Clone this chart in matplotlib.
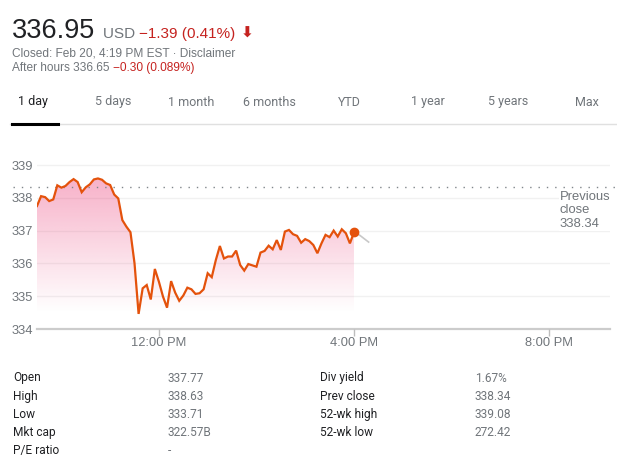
import numpy as np
import pandas as pd
import matplotlib
matplotlib.use("Agg")
import matplotlib.pyplot as plt
import matplotlib.dates as mdates
from matplotlib.patches import Polygon

# intraday prices, 5 minute samples from 9:30 to 16:00
prices = [
    337.75, 338.05, 338.02, 337.90, 337.95, 338.38, 338.31, 338.36, 338.48, 338.57,
    338.48, 338.17, 338.32, 338.41, 338.56, 338.59, 338.55, 338.44, 338.39, 338.10,
    337.98, 337.32, 337.12, 336.95, 336.00, 334.46, 335.24, 335.34, 334.90, 335.83,
    335.44, 334.99, 334.65, 335.46, 335.11, 334.86, 335.02, 335.26, 335.21, 335.07,
    335.09, 335.21, 335.70, 335.58, 336.10, 336.53, 336.15, 336.21, 336.21, 336.39,
    335.95, 335.78, 335.98, 335.94, 335.90, 336.33, 336.38, 336.54, 336.43, 336.71,
    336.41, 336.97, 337.02, 336.89, 336.84, 336.63, 336.74, 336.68, 336.56, 336.31,
    336.61, 336.87, 336.80, 337.00, 336.82, 337.04, 336.92, 336.61, 336.95,
]
after_times = ["16:00", "16:07", "16:18"]
after_prices = [336.95, 336.86, 336.65]
prev_close = 338.34

tabs = ["1 day", "5 days", "1 month", "6 months", "YTD", "1 year", "5 years", "Max"]
stat_labels_l = ["Open", "High", "Low", "Mkt cap", "P/E ratio"]
stat_values_l = ["337.77", "338.63", "333.71", "322.57B", "-"]
stat_labels_r = ["Div yield", "Prev close", "52-wk high", "52-wk low"]
stat_values_r = ["1.67%", "338.34", "339.08", "272.42"]
yticks = [334, 335, 336, 337, 338, 339]

W, H = 617, 466
RED = "#c5221f"
GRAY = "#70757a"
DARK = "#202124"
LINE = "#e4520c"
ARIAL = ["Liberation Sans", "DejaVu Sans"]

plt.rcParams["font.family"] = ["Roboto", "DejaVu Sans"]

fig = plt.figure(figsize=(W / 100, H / 100), dpi=100)


def fx(x):
    return x / W


def fy(y):
    return 1 - y / H


times = pd.date_range("2020-02-20 09:30", periods=len(prices), freq="5min")
ah = pd.to_datetime(["2020-02-20 " + t for t in after_times])
tnum = mdates.date2num(times)
ahnum = mdates.date2num(ah)

x0 = mdates.date2num(pd.Timestamp("2020-02-20 09:30"))
x1 = mdates.date2num(pd.Timestamp("2020-02-20 21:15"))
ytop = 334 + 179 / 32.8

ax = fig.add_axes([fx(37), fy(329), fx(610) - fx(37), fy(150) - fy(329)])
ax.set_xlim(x0, x1)
ax.set_ylim(334, ytop)
for s in ax.spines.values():
    s.set_visible(False)

for v in yticks[1:]:
    ax.axhline(v, color="#f1f1f1", lw=1, zorder=0)
ax.axhline(334, color="#cccccc", lw=1.6, zorder=1, clip_on=False)

# gradient fill under the session line
poly_xy = np.column_stack([np.r_[tnum[0], tnum, tnum[-1]], np.r_[334, prices, 334]])
poly = Polygon(poly_xy, closed=True, facecolor="none", edgecolor="none")
ax.add_patch(poly)
grad = np.zeros((256, 1, 4))
grad[..., 0] = 236 / 255
grad[..., 1] = 64 / 255
grad[..., 2] = 122 / 255
grad[:, 0, 3] = np.clip(np.linspace(-0.05, 0.42, 256), 0, 1)
im = ax.imshow(grad, extent=[tnum[0], tnum[-1], 334, 338.7], origin="lower",
               aspect="auto", zorder=1, interpolation="bilinear")
im.set_clip_path(poly)

ax.plot(tnum, prices, color=LINE, lw=1.6, zorder=3, solid_joinstyle="miter")
ax.plot(ahnum, after_prices, color="#c8c8c8", lw=1.2, zorder=2)
ax.plot(tnum[-1], prices[-1], "o", color=LINE, ms=6, zorder=4)

# previous close dotted line
ax.plot([mdates.date2num(pd.Timestamp("2020-02-20 09:00")), x1 + 0.01], [prev_close] * 2,
        color="#80868b", lw=1, ls=(0, (1, 5)), clip_on=False, zorder=2)
ax.text(mdates.date2num(pd.Timestamp("2020-02-20 20:13")), 338.22, "Previous\nclose\n338.34",
        color=GRAY, fontsize=9.4, va="top", ha="left", linespacing=1.2, family=ARIAL,
        bbox=dict(facecolor="white", edgecolor="none", pad=0.5), zorder=5)

ax.set_yticks(yticks)
ax.set_yticklabels([str(v) for v in yticks], color=GRAY, fontsize=9.3, family=ARIAL)
ax.tick_params(axis="y", length=0, pad=3)
xt = [mdates.date2num(pd.Timestamp("2020-02-20 " + t)) for t in ["12:00", "16:00", "20:00"]]
ax.set_xticks(xt)
ax.set_xticklabels(["12:00 PM", "4:00 PM", "8:00 PM"], color=GRAY, fontsize=9.3, family=ARIAL)
ax.tick_params(axis="x", length=5, color="#bdbdbd", width=1, pad=0.5)
ax.set_facecolor("none")

# header
fig.canvas.draw()
renderer = fig.canvas.get_renderer()


def chain(x, y, pieces):
    for txt, col, size in pieces:
        t = fig.text(fx(x), fy(y), txt, color=col, fontsize=size, va="baseline",
                     ha="left", family=ARIAL)
        x += t.get_window_extent(renderer).width
    return x


chain(12, 38, [("336.95", DARK, 19.5)])
end = chain(103, 38, [("USD ", GRAY, 11), ("\u22121.39 (0.41%)", RED, 11)])
fig.text(fx(end + 5), fy(38), "\u2b07", color=RED, fontsize=11, va="baseline",
         family="DejaVu Sans", fontweight="bold")
fig.text(fx(12), fy(57), "Closed: Feb 20, 4:19 PM EST \u00b7 Disclaimer", color=GRAY,
         fontsize=8.6, va="baseline", family=ARIAL)
chain(12, 71, [("After hours 336.65 ", GRAY, 8.6), ("\u22120.30 (0.089%)", RED, 8.6)])

# tabs
tab_x = [18, 95, 168, 243, 338, 411, 488, 575]
for i, (lab, x) in enumerate(zip(tabs, tab_x)):
    fig.text(fx(x), fy(102), lab, color=DARK if i == 0 else GRAY, fontsize=9,
             va="center", ha="left")
fig.add_artist(plt.Line2D([fx(10), fx(617)], [fy(123.5), fy(123.5)], color="#e0e0e0", lw=1))
fig.add_artist(plt.Line2D([fx(12), fx(58)], [fy(124), fy(124)], color="black", lw=2.2))

# stats table
for i, (lab, val) in enumerate(zip(stat_labels_l, stat_values_l)):
    y = 378 + i * 18.2
    fig.text(fx(13), fy(y), lab, color=DARK, fontsize=8.6, va="center")
    fig.text(fx(168), fy(y), val, color=GRAY, fontsize=8.6, va="center")
for i, (lab, val) in enumerate(zip(stat_labels_r, stat_values_r)):
    y = 378 + i * 18.2
    fig.text(fx(320), fy(y), lab, color=DARK, fontsize=8.6, va="center")
    fig.text(fx(475), fy(y), val, color=GRAY, fontsize=8.6, va="center")

fig.savefig("out.png", dpi=100, facecolor="white")
